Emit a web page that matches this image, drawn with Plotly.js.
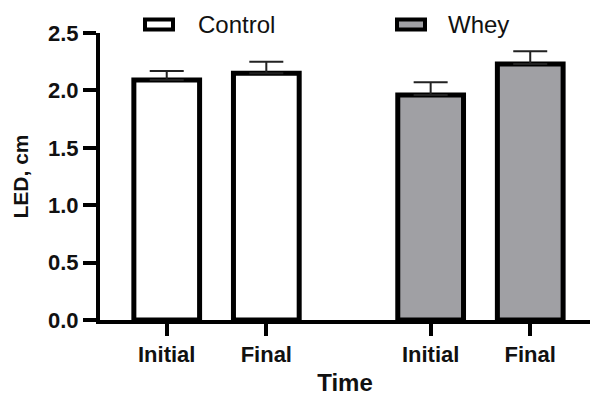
<!DOCTYPE html>
<html>
<head>
<meta charset="utf-8">
<script src="https://cdn.plot.ly/plotly-3.0.1.min.js"></script>
<style>html,body{margin:0;padding:0;background:#fff;}#chart{width:590px;height:396px;}</style>
</head>
<body>
<div id="chart"></div>
<script>
// ---- data ----
var timepoints = ['Initial', 'Final'];
var groupNames = ['Control', 'Whey'];
var controlValues = [2.09, 2.15];
var controlErrors = [0.08, 0.10];
var wheyValues = [1.96, 2.23];
var wheyErrors = [0.11, 0.11];
var yTickVals = [0, 0.5, 1.0, 1.5, 2.0, 2.5];
var yTickText = ['0.0', '0.5', '1.0', '1.5', '2.0', '2.5'];

// ---- layout helpers ----
var W = 590, H = 396;
var M = {l: 100, r: 0, t: 33, b: 76};
var groupGap = 2.65;
function slotX(g, i) { return 1 + i + g * groupGap; }
function px2paperX(px) { return (px - M.l) / (W - M.l - M.r); }
function px2paperY(py) { return 1 - (py - M.t) / (H - M.t - M.b); }

var fills = ['#ffffff', '#a0a0a4'];
var seriesVals = [controlValues, wheyValues];
var seriesErrs = [controlErrors, wheyErrors];

var traces = groupNames.map(function (name, g) {
  return {
    type: 'bar',
    name: name,
    x: timepoints.map(function (t, i) { return slotX(g, i); }),
    y: seriesVals[g],
    width: 0.66,
    marker: {color: fills[g], line: {color: '#000', width: 5}},
    error_y: {
      type: 'data', symmetric: false,
      array: seriesErrs[g],
      arrayminus: seriesErrs[g].map(function () { return 0; }),
      color: '#222', thickness: 2, width: 17
    },
    showlegend: false,
    hoverinfo: 'x+y'
  };
});

var tickVals = [], tickText = [];
groupNames.forEach(function (n, g) {
  timepoints.forEach(function (t, i) { tickVals.push(slotX(g, i)); tickText.push(t); });
});

var FAM = 'Liberation Sans, Arial, sans-serif';
var boldFont = {family: FAM, size: 22, color: '#111', weight: 'bold'};

// manual legend
var legendItems = [
  {name: groupNames[0], fill: fills[0], x0: 143, x1: 175, tx: 196},
  {name: groupNames[1], fill: fills[1], x0: 395, x1: 427, tx: 446}
];
var shapes = [], annotations = [];
legendItems.forEach(function (it) {
  shapes.push({type: 'rect', xref: 'paper', yref: 'paper',
    x0: px2paperX(it.x0 + 2), x1: px2paperX(it.x1 - 2),
    y0: px2paperY(29.5), y1: px2paperY(19.5),
    fillcolor: it.fill, line: {color: '#000', width: 4}});
  annotations.push({xref: 'paper', yref: 'paper', x: px2paperX(it.tx), y: px2paperY(24),
    xanchor: 'left', yanchor: 'middle', showarrow: false, text: it.name,
    font: {family: FAM, size: 24, color: '#111'}});
});

var layout = {
  width: W, height: H,
  margin: M,
  paper_bgcolor: '#fff', plot_bgcolor: '#fff',
  barmode: 'overlay',
  showlegend: false,
  xaxis: {
    range: [0.33, 5.25],
    tickmode: 'array', tickvals: tickVals, ticktext: tickText,
    ticks: 'outside', ticklen: 12, tickwidth: 4, tickcolor: '#000',
    showline: true, linecolor: '#000', linewidth: 4,
    showgrid: false, zeroline: false,
    tickfont: boldFont,
    title: {text: 'Time', font: {family: FAM, size: 24, color: '#111', weight: 'bold'}, standoff: 11},
    automargin: false, fixedrange: true
  },
  yaxis: {
    range: [0, 2.5],
    tickmode: 'array', tickvals: yTickVals, ticktext: yTickText,
    ticks: 'outside', ticklen: 13, tickwidth: 4, tickcolor: '#000',
    showline: true, linecolor: '#000', linewidth: 4,
    showgrid: false, zeroline: false,
    tickfont: boldFont,
    title: {text: 'LED, cm', font: {family: FAM, size: 21, color: '#111', weight: 'bold'}, standoff: 15},
    automargin: false, fixedrange: true
  },
  shapes: shapes,
  annotations: annotations
};

Plotly.newPlot('chart', traces, layout, {displayModeBar: false, staticPlot: true});
</script>
</body>
</html>
